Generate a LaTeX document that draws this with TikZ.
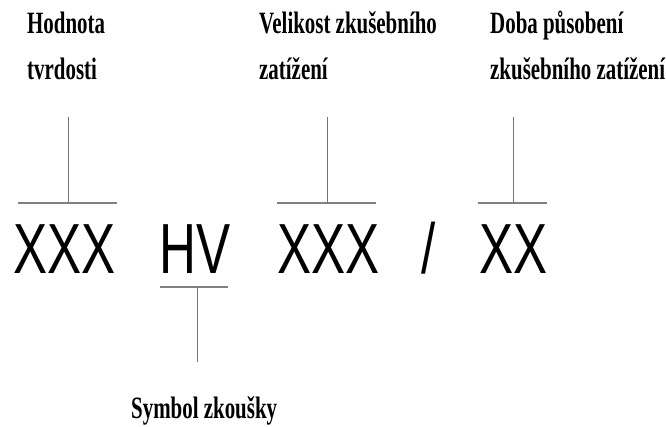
\documentclass[tikz,border=0pt]{standalone}
\usepackage{fontspec}
\newfontfamily\lblfont{Liberation Serif}[FakeStretch=0.675]
\newfontfamily\bigfont{Liberation Sans}[FakeStretch=0.72]
\begin{document}
\begin{tikzpicture}[x=1pt,y=-1pt,
  lbl/.style={anchor=base west,inner sep=0pt,font=\lblfont\bfseries\fontsize{31}{31}\selectfont},
  big/.style={anchor=base west,inner sep=0pt,font=\bigfont\fontsize{71}{71}\selectfont},
  bar/.style={draw=black!50,line width=1.3pt},
  stem/.style={draw=black!55,line width=0.8pt}]
\useasboundingbox (0,0) rectangle (666,426);
% labels
\node[lbl] (l1a) at (27,33) {Hodnota};
\node[lbl] (l1b) at (27,79) {tvrdosti};
\node[lbl] (l2a) at (259,33) {Velikost zkušebního};
\node[lbl] (l2b) at (259,79) {zatížení};
\node[lbl] (l3a) at (490,33) {Doba působení};
\node[lbl] (l3b) at (490,79) {zkušebního zatížení};
\node[lbl] (l4) at (131,418) {Symbol zkoušky};
% big text
\node[big] (t1) at (13,273) {XXX};
\node[big] (t2) at (159,273) {HV};
\node[big] (t3) at (277,273) {XXX};
\node[big] (t4) at (421,273) {/};
\node[big] (t5) at (479,273) {XX};
% connectors
\coordinate (a1) at (68,117); \coordinate (b1) at (68,203);
\coordinate (a2) at (327,117); \coordinate (b2) at (327,203);
\coordinate (a3) at (513,117); \coordinate (b3) at (513,203);
\coordinate (a4) at (197,287); \coordinate (b4) at (197,362);
\draw[bar] (18,203) -- (117,203);
\draw[bar] (277,203) -- (376,203);
\draw[bar] (478,203) -- (547,203);
\draw[bar] (160,287) -- (228,287);
\draw[stem] (a1) -- (b1);
\draw[stem] (a2) -- (b2);
\draw[stem] (a3) -- (b3);
\draw[stem] (a4) -- (b4);
\end{tikzpicture}
\end{document}
